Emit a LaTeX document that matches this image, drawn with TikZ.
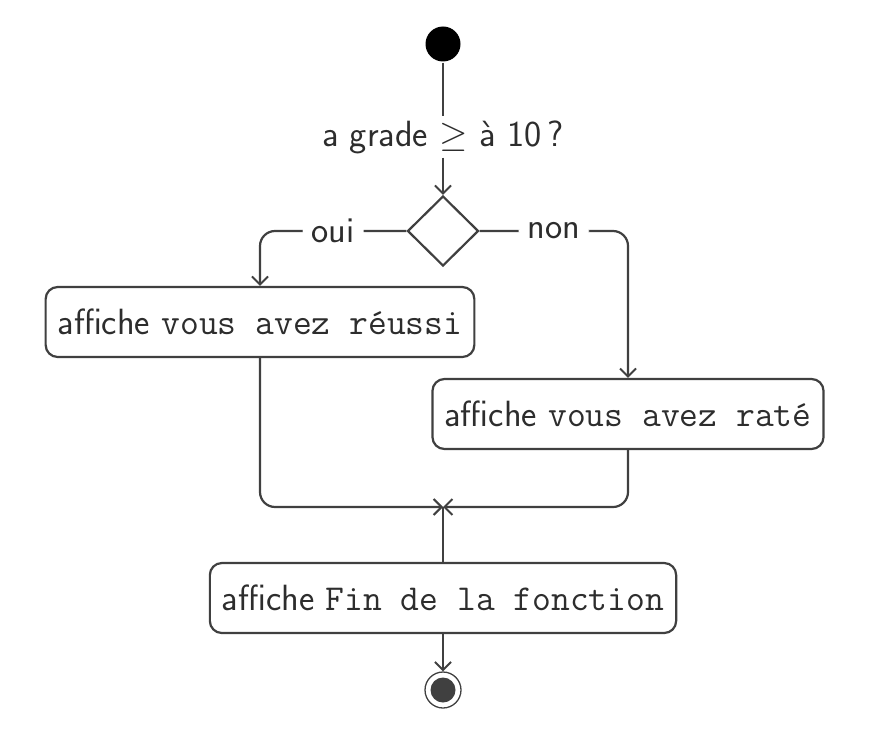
\documentclass[tikz,border=0pt]{standalone}
\usepackage{fontspec}
\DeclareFontFamily{OMS}{cmsy}{\skewchar\font48 }
\DeclareFontShape{OMS}{cmsy}{m}{n}{<-> cmsy10}{}
\usetikzlibrary{arrows.meta,shapes.geometric}
\definecolor{lc}{RGB}{64,64,64}
\definecolor{tc}{RGB}{45,45,45}
\newcommand\bigsf{\fontsize{36.5}{44}\selectfont\sffamily}
\begin{document}
\begin{tikzpicture}[x=1pt,y=-1pt,
  line width=2.2pt, color=lc,
  arr/.style={-{Straight Barb[length=8pt,width=16pt,line width=2pt]}},
  act/.style={draw=lc, rounded corners=12pt, minimum height=70pt, inner xsep=12pt, fill=white, font=\bigsf, text=tc},
  lbl/.style={fill=white, inner xsep=9pt, font=\bigsf, text=tc},
  dec/.style={diamond, draw=lc, minimum width=71pt, minimum height=70pt, inner sep=0pt, fill=white}]
\useasboundingbox (0,0) rectangle (874,733);
\node[circle, fill=black, minimum size=35pt, inner sep=0pt] (start) at (443,44) {};
\node[font=\bigsf, text=tc, inner sep=3pt] (q) at (443,137) {a grade $\geq$ à 10\,?};
\node[dec] (d) at (443,231) {};
\node[act] (left) at (260,322) {affiche \texttt{vous avez réussi}};
\node[act] (right) at (628,414) {affiche \texttt{vous avez raté}};
\node[act] (fin) at (443,598) {affiche \texttt{Fin de la fonction}};
\coordinate (m) at (443,507);
\node[circle, draw=lc, line width=1.3pt, minimum size=36pt, inner sep=0pt] (end) at (443,690) {};
\fill[lc] (end.center) circle (12.5pt);

\draw (start) -- (start |- q.north);
\draw[arr] (d |- q.south) -- (d);
\draw[arr, rounded corners=15pt] (d.west) -| node[pos=0.25, lbl] {oui} (left.north);
\draw[arr, rounded corners=15pt] (d.east) -| node[pos=0.25, lbl] {non} (right.north);
\draw[arr, rounded corners=15pt] (left.south) |- (m);
\draw[arr, rounded corners=15pt] (right.south) |- (m);
\draw (fin.north) -- (m);
\draw[arr] (fin.south) -- (end);
\end{tikzpicture}
\end{document}
